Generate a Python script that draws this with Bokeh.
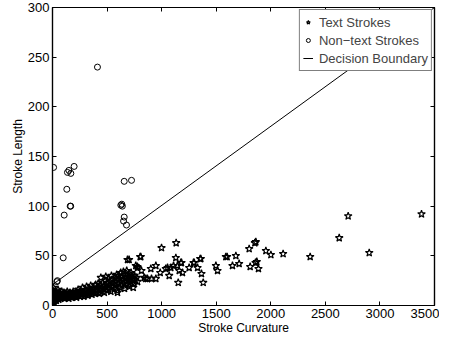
from bokeh.plotting import figure
from bokeh.models import Range1d, LinearAxis, Legend, LegendItem, FixedTicker
from bokeh.embed import file_html
from bokeh.resources import INLINE

# Text strokes (stars): curvature, length
text_x = [2, 5, 8, 3, 10, 12, 6, 15, 18, 20, 4, 9, 14, 22, 25, 28, 30, 32, 35, 38, 40, 42, 45, 48, 50, 52, 55, 58, 60, 1, 7, 16,
          65, 70, 75, 80, 85, 90, 95, 100, 105, 110, 115, 120, 125, 130, 135, 140, 145, 150, 155, 160, 165, 170, 175, 180, 185, 190, 195, 200,
          210, 215, 220, 228, 235, 240, 248, 255, 260, 268, 275, 280, 288, 295, 300, 305, 312, 318, 325, 330, 338, 345, 350, 355, 362, 370, 375, 382, 390, 395, 400,
          405, 412, 418, 425, 430, 438, 443, 450, 455, 462, 470, 475, 482, 488, 492, 498, 505, 510, 515, 520, 528, 535, 540, 545, 552, 558, 565, 570, 575, 580, 588, 592, 596, 598,
          605, 610, 615, 620, 625, 630, 635, 640, 645, 650, 655, 660, 665, 670, 675, 680, 685, 690, 695, 700, 705, 710, 715, 720, 725, 730, 735, 740, 748, 752, 758, 763, 770, 778, 780, 702, 687, 809, 840, 803,
          855, 870, 907, 947, 901, 947, 987, 815, 779, 999, 1133, 1038, 1069, 1084, 1130, 1109, 1145, 1182, 1161, 1191, 1152, 1252, 1292, 1329, 1359, 1365, 1381,
          1054, 1176, 1298, 1353, 1497, 1512, 1588, 1600, 1680, 1649, 1710, 1802, 1811, 1854, 1860, 1863, 1872, 1887, 1955, 2001, 2113, 2361, 2627, 2709, 2902, 3381]
text_y = [2, 4, 6, 8, 3, 10, 12, 7, 5, 12, 15, 18, 14, 9, 6, 11, 14, 8, 5, 10, 13, 7, 9, 12, 16, 8, 11, 6, 13, 10, 1, 2,
          9, 12, 7, 10, 14, 8, 11, 9, 13, 7, 10, 12, 8, 11, 14, 9, 12, 7, 10, 13, 9, 11, 8, 12, 10, 14, 9, 11,
          10, 14, 8, 12, 16, 10, 13, 9, 15, 11, 18, 12, 9, 14, 16, 11, 19, 13, 10, 17, 14, 12, 20, 15, 11, 18, 13, 16, 12, 21, 15,
          18, 13, 22, 16, 12, 20, 28, 17, 14, 23, 19, 13, 25, 29, 18, 15, 22, 27, 16, 20, 24, 14, 30, 19, 26, 22, 17, 28, 24, 20, 31, 15, 13, 25,
          22, 30, 27, 18, 33, 24, 20, 29, 26, 34, 22, 17, 31, 27, 24, 35, 21, 29, 26, 32, 19, 28, 24, 33, 30, 22, 27, 18, 22, 30, 26, 40, 28, 39, 24, 46, 46, 49, 28, 49,
          27, 27, 27, 27, 37, 40, 33, 35, 38, 58, 63, 37, 30, 38, 48, 40, 40, 43, 35, 33, 23, 38, 43, 38, 47, 32, 23,
          38, 43, 43, 47, 40, 35, 49, 49, 50, 40, 42, 57, 39, 63, 43, 64, 44, 37, 55, 51, 52, 49, 68, 90, 53, 92]

# Non-text strokes (circles)
non_x = [10, 137, 168, 150, 198, 131, 162, 167, 107, 98, 40, 45, 412, 626, 635, 640, 657, 724, 657, 651, 678]
non_y = [139, 134, 133, 136, 140, 117, 100, 100, 91, 48, 24, 25, 240, 101, 102, 100, 125, 126, 89, 85, 81]

# Decision boundary end points
bound_x = [0, 3500]
bound_y = [21, 300]

x_ticks = [0, 500, 1000, 1500, 2000, 2500, 3000, 3500]
y_ticks = [0, 50, 100, 150, 200, 250, 300]

FONT = "Liberation Sans"

p = figure(width=439, height=337, output_backend="svg", toolbar_location=None,
           x_range=Range1d(0, 3500), y_range=Range1d(0, 300),
           min_border_left=52, min_border_right=5, min_border_top=7, min_border_bottom=29)
p.grid.visible = False
p.outline_line_color = "black"
p.outline_line_width = 1.2

def style_axis(ax, labels=True):
    ax.axis_line_color = "black"
    ax.axis_line_width = 1.2
    ax.major_tick_in = 4
    ax.major_tick_out = 0
    ax.minor_tick_line_color = None
    ax.major_tick_line_color = "black"
    if labels:
        ax.major_label_text_font = FONT
        ax.major_label_text_font_size = "13px"
        ax.major_label_text_color = "black"
        ax.axis_label_text_font = FONT
        ax.axis_label_text_font_size = "12px"
        ax.axis_label_text_font_style = "normal"
        ax.axis_label_text_color = "black"
    else:
        ax.major_label_text_color = None
        ax.major_label_text_font_size = "1px"
        ax.major_label_standoff = 0

p.xaxis.ticker = FixedTicker(ticks=x_ticks)
p.yaxis.ticker = FixedTicker(ticks=y_ticks)
style_axis(p.xaxis[0])
style_axis(p.yaxis[0])
p.xaxis.major_label_standoff = 3
p.yaxis.major_label_standoff = 3
p.xaxis.axis_label = "Stroke Curvature"
p.yaxis.axis_label = "Stroke Length"
p.xaxis.axis_label_standoff = 0
p.yaxis.axis_label_standoff = 0

top = LinearAxis(ticker=FixedTicker(ticks=x_ticks))
style_axis(top, labels=False)
p.add_layout(top, "above")
right = LinearAxis(ticker=FixedTicker(ticks=y_ticks))
style_axis(right, labels=False)
p.add_layout(right, "right")

line_r = p.line(bound_x, bound_y, line_color="black", line_width=1)
star_r = p.scatter(text_x, text_y, marker="star", size=8, line_color="black",
                   fill_color=None, line_width=1.2)
circ_r = p.scatter(non_x, non_y, marker="circle", size=6, line_color="black",
                   fill_color=None, line_width=1)

legend = Legend(items=[LegendItem(label="Text Strokes", renderers=[star_r]),
                       LegendItem(label="Non\u2212text Strokes", renderers=[circ_r]),
                       LegendItem(label="Decision Boundary", renderers=[line_r])],
                location="top_right", margin=2, padding=3, spacing=0,
                glyph_width=10, glyph_height=18, label_standoff=6, label_height=18,
                label_text_font=FONT, label_text_font_size="13px",
                border_line_color="black", border_line_width=1,
                background_fill_color="white", background_fill_alpha=1)
p.add_layout(legend)

open("out.html", "w").write(file_html(p, INLINE))
